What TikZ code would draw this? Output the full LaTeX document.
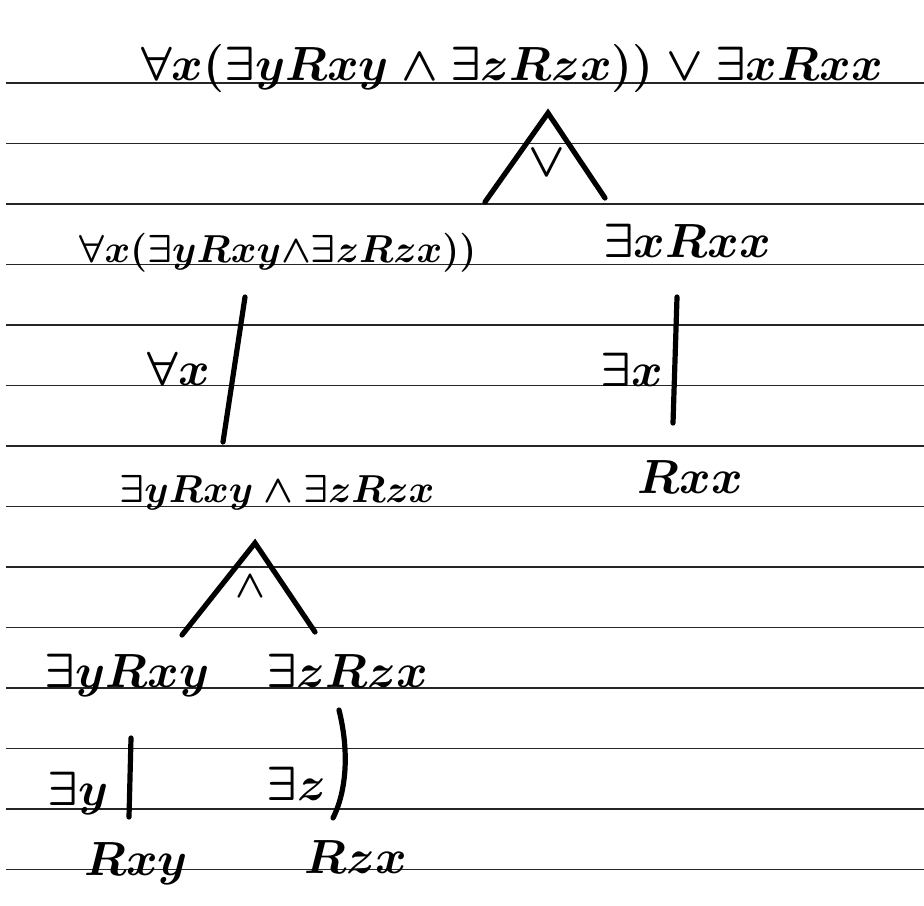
\documentclass[tikz,border=0pt]{standalone}
\usepackage{fix-cm}
\begin{document}
\begin{tikzpicture}[x=0.5pt, y=-0.5pt, thick,
    fml/.style={anchor=base, inner sep=0pt, font=\fontsize{24}{28}\selectfont\boldmath},
    small/.style={font=\fontsize{19.5}{23}\selectfont\boldmath},
    ruled/.style={line width=0.9pt, black!85},
    stroke/.style={line width=2.6pt, line cap=round}]
    \useasboundingbox (0,0) rectangle (924,905);

    % Ruled paper
    \foreach \i in {0,...,13}
        \draw[ruled] (6, 83+60.5*\i) -- (924, 83+60.5*\i);

    % Whole formula
    \node[fml] (top) at (512,80) {$\forall x(\exists y Rxy \land \exists z Rzx))\lor\exists x Rxx$};

    % Disjunction split
    \coordinate (orTop) at (548,113);
    \coordinate (orL) at (485,202);
    \coordinate (orR) at (605,198);
    \draw[stroke] (orL) -- (orTop) -- (orR);
    \node[fml] (orOp) at (547,176) {$\vee$};

    \node[fml, small] (allX) at (278,262) {$\forall x(\exists y Rxy{\land}\exists z Rzx))$};
    \node[fml] (exX) at (687,257) {$\exists x Rxx$};

    % Quantifier steps
    \coordinate (allTop) at (245,297);
    \coordinate (allBot) at (223,442);
    \draw[stroke] (allTop) -- (allBot);
    \node[fml] (allLbl) at (179,385) {$\forall x$};

    \coordinate (exTop) at (677,297);
    \coordinate (exBot) at (673,423);
    \draw[stroke] (exTop) -- (exBot);
    \node[fml] (exLbl) at (632,386) {$\exists x$};

    \node[fml, small] (conj) at (277,502) {$\exists y Rxy \land \exists z Rzx$};
    \node[fml] (rxx) at (690,493) {$Rxx$};

    % Conjunction split
    \coordinate (andTop) at (255,543);
    \coordinate (andL) at (182,635);
    \coordinate (andR) at (315,632);
    \draw[stroke] (andL) -- (andTop) -- (andR);
    \node[fml, small] (andOp) at (250,597) {$\wedge$};

    \node[fml] (exY) at (127,687) {$\exists y Rxy$};
    \node[fml] (exZ) at (347,687) {$\exists z Rzx$};

    % Last steps
    \coordinate (yTop) at (131,738);
    \coordinate (yBot) at (129,817);
    \draw[stroke] (yTop) -- (yBot);
    \node[fml] (yLbl) at (78,805) {$\exists y$};

    \coordinate (zTop) at (339,710);
    \coordinate (zBot) at (333,818);
    \draw[stroke] (zTop) .. controls (349,750) and (347,790) .. (zBot);
    \node[fml] (zLbl) at (296,800) {$\exists z$};

    \node[fml] (rxy) at (136,875) {$Rxy$};
    \node[fml] (rzx) at (356,873) {$Rzx$};
\end{tikzpicture}
\end{document}
